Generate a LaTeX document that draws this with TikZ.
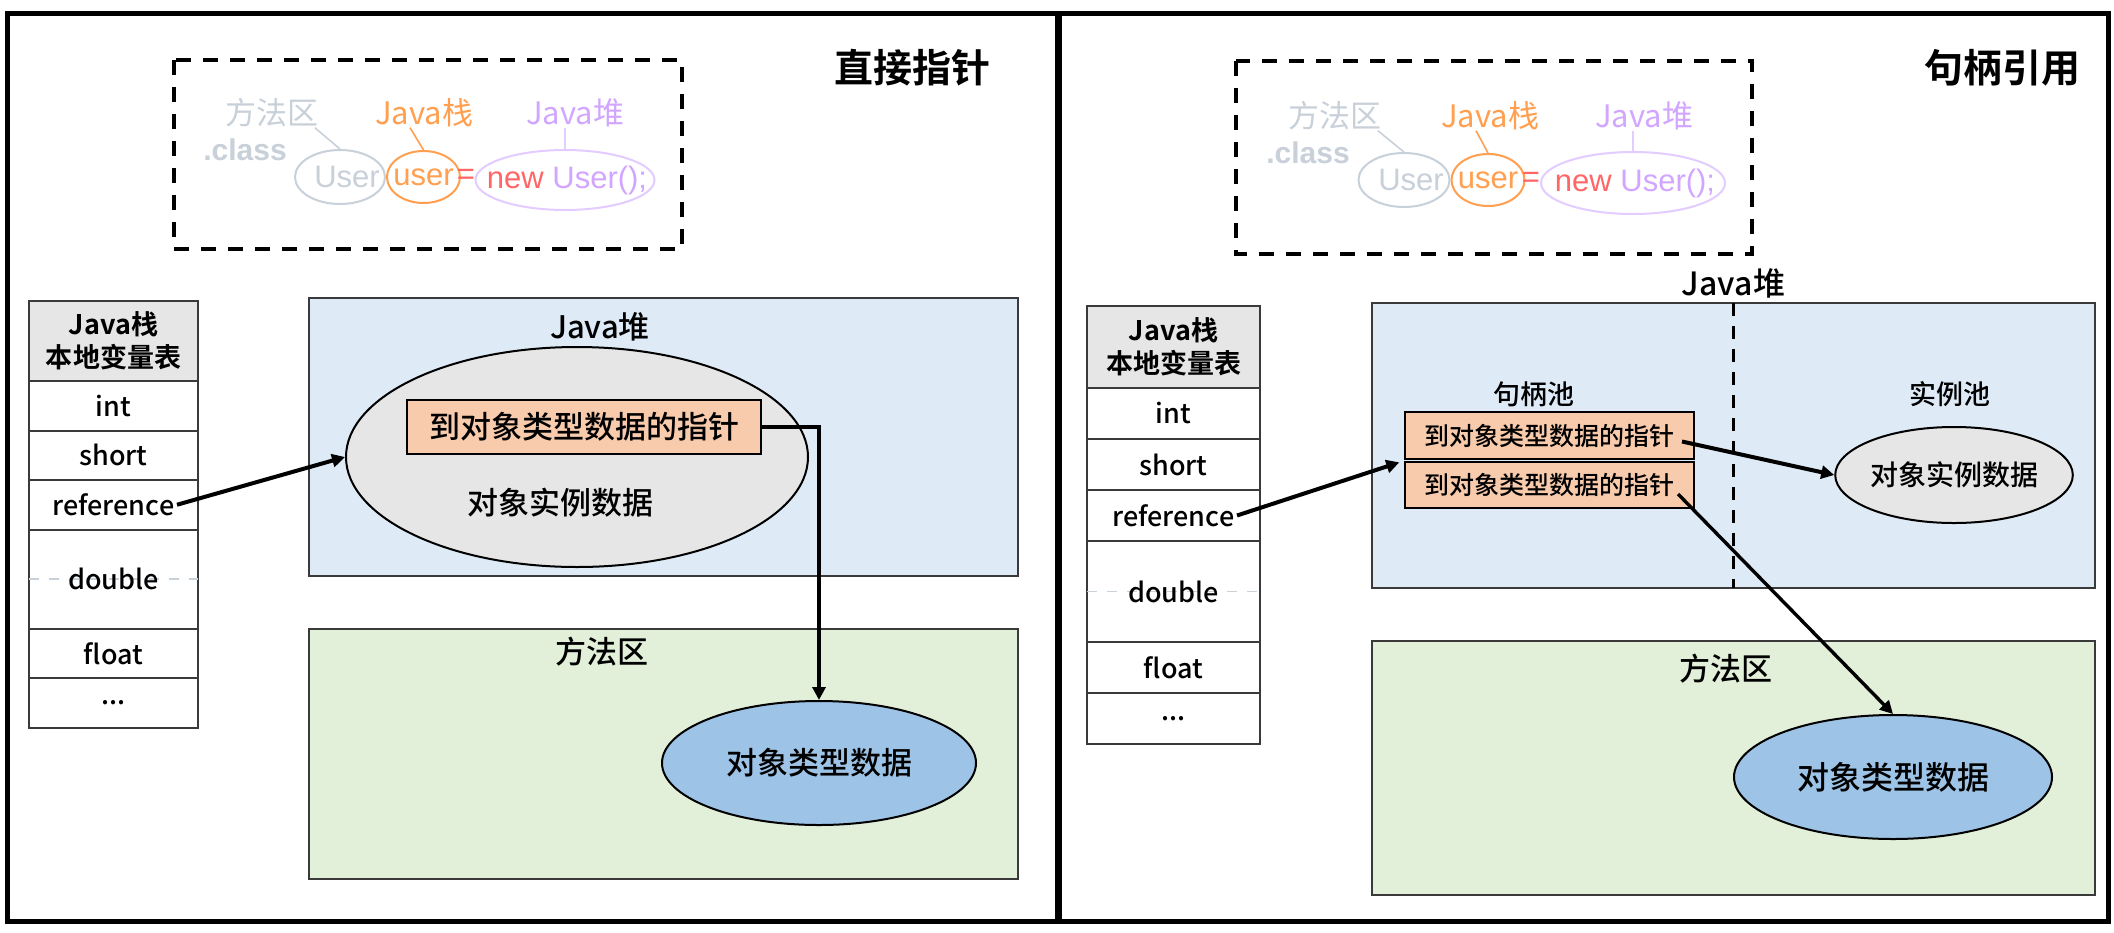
\documentclass[tikz,border=0pt]{standalone}
\usepackage{fontspec}
\setmainfont{Noto Sans CJK SC}[UprightFont=* Medium, BoldFont=* Bold]
\newfontfamily\codefont{Liberation Sans}
\newfontfamily\lightfont{Noto Sans CJK SC}
\usetikzlibrary{positioning,shapes.geometric,arrows.meta,calc}

\definecolor{heapblue}{HTML}{DEEBF7}
\definecolor{methgreen}{HTML}{E2F0D9}
\definecolor{objgray}{HTML}{E7E6E6}
\definecolor{ptrpeach}{HTML}{F8CBAD}
\definecolor{typeblue}{HTML}{9DC3E6}
\definecolor{hdrgray}{HTML}{E6E6E6}
\definecolor{linegray}{HTML}{3A3A3A}
\definecolor{codegray}{HTML}{C8D0D9}
\definecolor{codeorange}{HTML}{FF9F4F}
\definecolor{codered}{HTML}{FF6666}
\definecolor{codepurple}{HTML}{D2A6FF}
\definecolor{codelilac}{HTML}{E3CCFF}

\tikzset{
  title/.style={inner sep=0pt, font=\bfseries\fontsize{19.5}{22}\selectfont},
  lbl/.style={inner sep=0pt, font=\fontsize{15.5}{18}\selectfont},
  area/.style={draw=linegray, line width=1.1pt, inner sep=0pt, outer sep=0pt},
  cell/.style={draw=linegray, line width=1pt, fill=white, minimum width=84.5pt,
    minimum height=24.75pt, inner sep=0pt, outer sep=0pt, align=center,
    font=\fontsize{13.5}{16.5}\selectfont},
  hdr/.style={fill=hdrgray, font=\bfseries\fontsize{13.5}{16.5}\selectfont},
  ptrbox/.style={draw, line width=1.2pt, fill=ptrpeach, inner sep=0pt, outer sep=0pt},
  blob/.style={ellipse, draw, line width=1pt, inner sep=0pt},
  codebox/.style={line width=2pt, dash pattern=on 7.5pt off 6pt},
  codelbl/.style={inner sep=0pt, font=\lightfont\fontsize{15.5}{18}\selectfont},
  codetxt/.style={inner sep=0pt, font=\codefont\fontsize{15.5}{18}\selectfont},
  codeell/.style={ellipse, line width=1pt, inner sep=0pt, codetxt},
  codeline/.style={line width=0.8pt},
  halfline/.style={draw=codegray, line width=0.8pt, dash pattern=on 5pt off 5pt},
  ptr/.style={line width=2pt, -{Triangle[length=6.5pt,width=6.5pt]}},
}

\begin{document}
\begin{tikzpicture}[x=0.5pt, y=-0.5pt]
\useasboundingbox (0,0) rectangle (2114,932);
\fill[white] (0,0) rectangle (2114,932);
% outer frame
\draw[line width=2.5pt] (7,13) rectangle (2108,921);
\draw[line width=3.5pt] (1058,13) -- (1058,921);

%%% left panel: direct pointer
\node[title] (Ltitle) at (912,68) {直接指针};
\draw[codebox] (174,60) rectangle (682,249);
\node[codeell, draw=codegray, text=codegray, minimum width=45pt, minimum height=27pt] (Lcls) at (340,177) {\makebox[0pt]{\hspace{7pt}User}};
\node[codeell, draw=codeorange, text=codeorange, minimum width=36.5pt, minimum height=26pt, right=0pt of Lcls] (Lvar) {\makebox[0pt]{user}};
\node[codetxt, text=codered] (Leq) at (466,177) {=};
\node[codeell, draw=codelilac, minimum width=89.5pt, minimum height=30pt] (Lobj) at (565,180) {\makebox[0pt]{\hspace{2pt}\textcolor{codered}{new} \textcolor{codepurple}{User();}}};
\node[codelbl, text=codegray] (Lmeth) at (272,113) {方法区};
\node[codetxt, text=codegray, font=\codefont\bfseries\fontsize{15}{18}\selectfont] (Ldot) at (245,150) {.class};
\node[codelbl, text=codeorange] (Lstk) at (424,113) {Java栈};
\node[codelbl, text=codepurple] (Lhp) at (575,113) {Java堆};
\draw[codeline, codegray] ([xshift=-2pt]Lmeth.south east) -- (Lcls.north);
\draw[codeline, codeorange] ([xshift=-7pt]Lstk.south) -- (Lvar.north);
\draw[codeline, codelilac] (Lobj.north) -- (Lobj.north |- Lhp.south);

% stack table
\node[cell, hdr, minimum height=40pt] (Lhdr) at (113.5,341) {Java栈\\本地变量表};
\node[cell, below=0pt of Lhdr] (Lint) {int};
\node[cell, below=0pt of Lint] (Lshort) {short};
\node[cell, below=0pt of Lshort] (Lref) {reference};
\node[cell, minimum height=49.5pt, below=0pt of Lref] (Ldbl) {};
\draw[halfline] (Ldbl.west) -- (Ldbl.east);
\node[cell, draw=none, fill=none] (Ldbltxt) at (Ldbl) {double};
\node[cell, below=0pt of Ldbl] (Lflt) {float};
\node[cell, below=0pt of Lflt] (Ldots) {...};

% heap and method area
\node[area, fill=heapblue, minimum width=354.5pt, minimum height=139pt] (Lheap) at (663.5,437) {};
\node[lbl] (Lheaplbl) at (600,327) {Java堆};
\node[blob, fill=objgray, minimum width=231pt, minimum height=110pt] (Linst) at (577,457) {};
\node[ptrbox, minimum width=177pt, minimum height=27pt, font=\fontsize{15.5}{18}\selectfont] (Lptr) at (584,427) {到对象类型数据的指针};
\node[lbl] (Linsttxt) at (560,503) {对象实例数据};
\node[area, fill=methgreen, minimum width=354.5pt, minimum height=125pt] (Lmarea) at (663.5,754) {};
\node[lbl] (Lmarealbl) at (602,652) {方法区};
\node[blob, fill=typeblue, minimum width=157pt, minimum height=62pt, font=\fontsize{15.5}{18}\selectfont] (Ltype) at (819,763) {对象类型数据};

\draw[ptr] ([xshift=-10.5pt]Lref.east) -- (Linst.west);
\draw[ptr] (Lptr.east) -| (Ltype.north);

%%% right panel: handle
\node[title] (Rtitle) at (2002,68) {句柄引用};
\draw[codebox] (1236,61) rectangle (1752,254);
\node[codeell, draw=codegray, text=codegray, minimum width=45.5pt, minimum height=27pt] (Rcls) at (1404,180) {\makebox[0pt]{\hspace{7pt}User}};
\node[codeell, draw=codeorange, text=codeorange, minimum width=36.5pt, minimum height=26pt, right=0pt of Rcls] (Rvar) {\makebox[0pt]{user}};
\node[codetxt, text=codered] (Req) at (1531,180) {=};
\node[codeell, draw=codelilac, minimum width=92pt, minimum height=31pt] (Robj) at (1633,183) {\makebox[0pt]{\hspace{2pt}\textcolor{codered}{new} \textcolor{codepurple}{User();}}};
\node[codelbl, text=codegray] (Rmeth) at (1335,116) {方法区};
\node[codetxt, text=codegray, font=\codefont\bfseries\fontsize{15}{18}\selectfont] (Rdot) at (1308,153) {.class};
\node[codelbl, text=codeorange] (Rstk) at (1490,116) {Java栈};
\node[codelbl, text=codepurple] (Rhp) at (1644,116) {Java堆};
\draw[codeline, codegray] ([xshift=-2pt]Rmeth.south east) -- (Rcls.north);
\draw[codeline, codeorange] ([xshift=-7pt]Rstk.south) -- (Rvar.north);
\draw[codeline, codelilac] (Robj.north) -- (Robj.north |- Rhp.south);

% stack table
\node[cell, hdr, minimum width=86.5pt, minimum height=41pt] (Rhdr) at (1173.5,347) {Java栈\\本地变量表};
\node[cell, minimum width=86.5pt, minimum height=25.5pt, below=0pt of Rhdr] (Rint) {int};
\node[cell, minimum width=86.5pt, minimum height=25.5pt, below=0pt of Rint] (Rshort) {short};
\node[cell, minimum width=86.5pt, minimum height=25.5pt, below=0pt of Rshort] (Rref) {reference};
\node[cell, minimum width=86.5pt, minimum height=50.5pt, below=0pt of Rref] (Rdbl) {};
\draw[halfline] (Rdbl.west) -- (Rdbl.east);
\node[cell, draw=none, fill=none] (Rdbltxt) at (Rdbl) {double};
\node[cell, minimum width=86.5pt, minimum height=25.5pt, below=0pt of Rdbl] (Rflt) {float};
\node[cell, minimum width=86.5pt, minimum height=25.5pt, below=0pt of Rflt] (Rdots) {...};

% heap with handle pool and instance pool
\node[area, fill=heapblue, minimum width=361.5pt, minimum height=142.5pt] (Rheap) at (1733.5,445.5) {};
\draw[line width=1.6pt, dash pattern=on 6.5pt off 5pt] (Rheap.north) -- (Rheap.south);
\node[lbl, font=\fontsize{16}{18}\selectfont, above=2pt of Rheap.north] (Rheaplbl) {Java堆};
\node[lbl, font=\fontsize{13.5}{16}\selectfont] (Rpool) at (1534,394) {句柄池};
\node[lbl, font=\fontsize{13.5}{16}\selectfont] (Rinstpool) at (1950,394) {实例池};
\node[ptrbox, minimum width=144.5pt, minimum height=23.5pt, font=\fontsize{12.5}{15}\selectfont] (Rh1) at (1549.5,435.5) {到对象类型数据的指针};
\node[ptrbox, minimum width=144.5pt, minimum height=23pt, font=\fontsize{12.5}{15}\selectfont, below=1.5pt of Rh1] (Rh2) {到对象类型数据的指针};
\node[blob, fill=objgray, minimum width=115pt, minimum height=48pt, font=\fontsize{14}{16}\selectfont] (Rinst) at (1954,475) {对象实例数据};
\node[area, fill=methgreen, minimum width=361.5pt, minimum height=127pt] (Rmarea) at (1733.5,768) {};
\node[lbl] (Rmarealbl) at (1726,669) {方法区};
\node[blob, fill=typeblue, minimum width=159pt, minimum height=62pt, font=\fontsize{16}{18}\selectfont] (Rtype) at (1893,777) {对象类型数据};

\draw[ptr, shorten >=3pt] ([xshift=-11.5pt]Rref.east) -- ($(Rh1.south west)!.5!(Rh2.north west)$);
\draw[ptr] ($(Rh1.east)+(-12,6)$) -- (Rinst.west);
\draw[ptr, line width=1.7pt] ($(Rh2.east)+(-16,9)$) -- (Rtype.north);
\end{tikzpicture}
\end{document}
